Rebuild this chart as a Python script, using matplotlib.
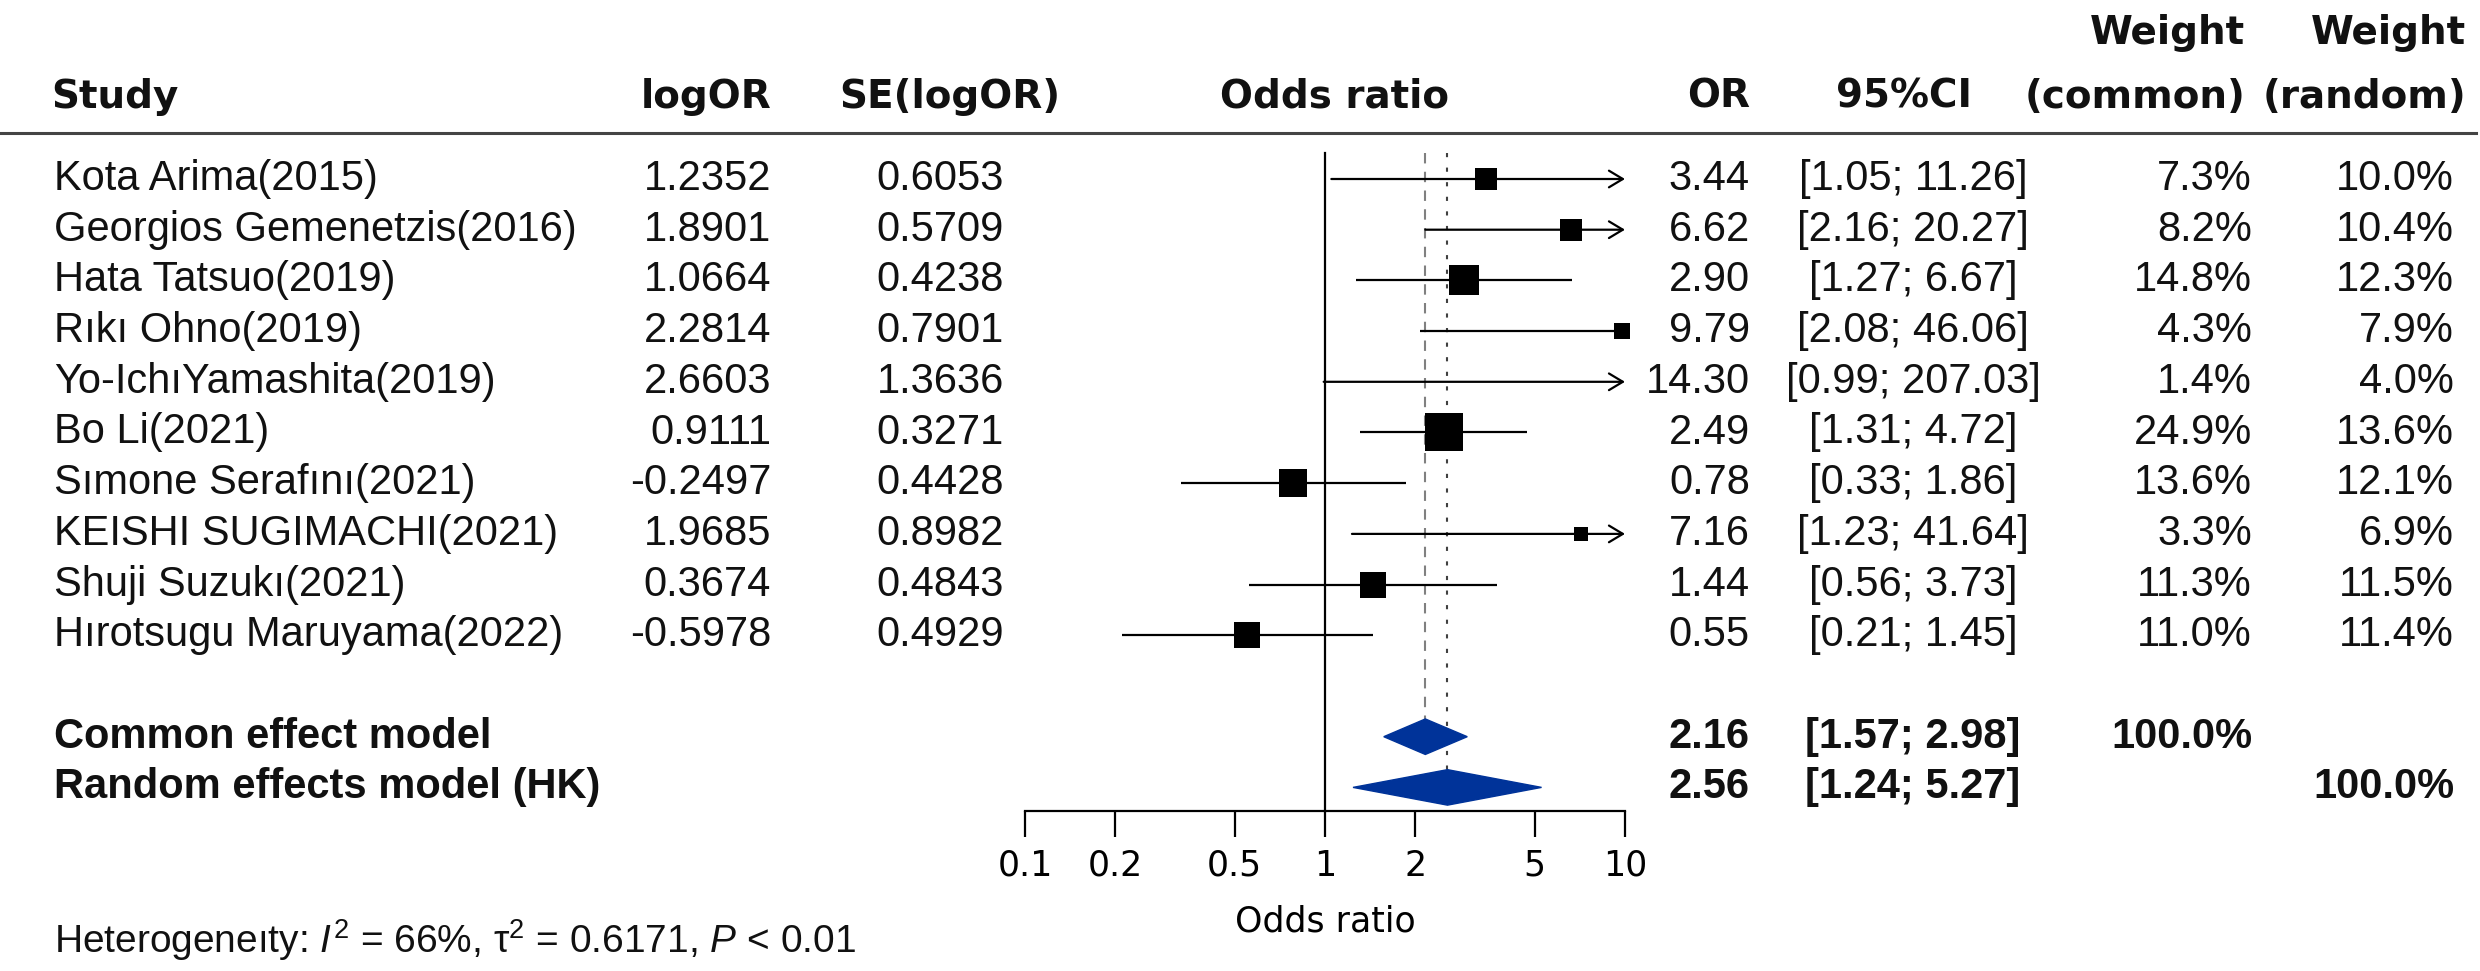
import matplotlib
matplotlib.use("Agg")
import matplotlib.pyplot as plt
from matplotlib.lines import Line2D
from matplotlib.patches import Polygon
import matplotlib.transforms as mtransforms

# study data
studies = ["Kota Arima(2015)", "Georgios Gemenetzis(2016)", "Hata Tatsuo(2019)",
           "Rıkı Ohno(2019)", "Yo-IchıYamashita(2019)", "Bo Li(2021)",
           "Sımone Serafını(2021)", "KEISHI SUGIMACHI(2021)", "Shuji Suzukı(2021)",
           "Hırotsugu Maruyama(2022)"]
logor = [1.2352, 1.8901, 1.0664, 2.2814, 2.6603, 0.9111, -0.2497, 1.9685, 0.3674, -0.5978]
se_logor = [0.6053, 0.5709, 0.4238, 0.7901, 1.3636, 0.3271, 0.4428, 0.8982, 0.4843, 0.4929]
odds = [3.44, 6.62, 2.90, 9.79, 14.30, 2.49, 0.78, 7.16, 1.44, 0.55]
ci_low = [1.05, 2.16, 1.27, 2.08, 0.99, 1.31, 0.33, 1.23, 0.56, 0.21]
ci_high = [11.26, 20.27, 6.67, 46.06, 207.03, 4.72, 1.86, 41.64, 3.73, 1.45]
w_common = [7.3, 8.2, 14.8, 4.3, 1.4, 24.9, 13.6, 3.3, 11.3, 11.0]
w_random = [10.0, 10.4, 12.3, 7.9, 4.0, 13.6, 12.1, 6.9, 11.5, 11.4]

# pooled estimates
models = ["Common effect model", "Random effects model (HK)"]
model_or = [2.16, 2.56]
model_low = [1.57, 1.24]
model_high = [2.98, 5.27]
model_wc = ["100.0%", ""]
model_wr = ["", "100.0%"]

heterogeneity = "Heterogeneıty: $\\mathit{I}^2$ = 66%, τ$^2$ = 0.6171, $\\mathit{P}$ < 0.01"
xticks = [0.1, 0.2, 0.5, 1, 2, 5, 10]
xtick_labels = ["0.1", "0.2", "0.5", "1", "2", "5", "10"]

W, H = 2480, 971
ROW0, STEP = 179, 50.7

plt.rcParams['mathtext.fontset'] = 'custom'
plt.rcParams['mathtext.rm'] = 'Liberation Sans'
plt.rcParams['mathtext.it'] = 'Liberation Sans:italic'

fig = plt.figure(figsize=(W / 100, H / 100), dpi=100)

ax = fig.add_axes([1025 / W, 0, 600 / W, 1])
ax.set_xscale('log')
ax.set_xlim(0.1, 10)
ax.set_ylim((H - ROW0) / STEP, -ROW0 / STEP)
ax.patch.set_visible(False)


def yd(pix):
    return (pix - ROW0) / STEP


# x axis
for s in ['top', 'right', 'left']:
    ax.spines[s].set_visible(False)
ax.spines['bottom'].set_position(('data', yd(811)))
ax.spines['bottom'].set_bounds(0.1, 10)
ax.spines['bottom'].set_linewidth(1.6)
ax.set_yticks([])
ax.set_xticks(xticks)
ax.set_xticklabels(xtick_labels, fontsize=25, family='DejaVu Sans')
ax.minorticks_off()
ax.tick_params(axis='x', direction='out', length=19, width=1.6, pad=8)
ax.text(1, yd(922), "Odds ratio", ha='center', va='center', fontsize=25,
        family='DejaVu Sans')

c_row = len(studies) + 1
r_row = len(studies) + 2

# reference lines
ax.plot([1, 1], [yd(153), yd(811)], color='black', lw=1.6, zorder=2)
ax.plot([model_or[0]] * 2, [yd(153), c_row - 0.35], color='#808080', lw=1.5,
        ls=(0, (5, 4)), zorder=1)
ax.plot([model_or[1]] * 2, [yd(153), r_row - 0.35], color='#404040', lw=1.5,
        ls=(0, (2, 5)), zorder=1)

# study CIs and squares
for i in range(len(studies)):
    lo = max(ci_low[i], 0.1)
    hi = min(ci_high[i], 10)
    if ci_high[i] > 10 and not (9 <= odds[i] <= 10):
        ax.annotate('', xy=(hi, i), xytext=(lo, i),
                    arrowprops=dict(arrowstyle='->,head_length=0.5,head_width=0.3',
                                    lw=1.6, color='black', shrinkA=0, shrinkB=0,
                                    mutation_scale=20),
                    annotation_clip=False, zorder=3)
    else:
        ax.plot([lo, hi], [i, i], color='black', lw=1.6, zorder=3,
                solid_capstyle='butt', clip_on=False)
    if odds[i] <= 10:
        ax.plot(odds[i], i, marker='s', color='black', mew=0,
                ms=5.6 * w_common[i] ** 0.5, zorder=4, clip_on=False)

# diamonds
for k, row in enumerate([c_row, r_row]):
    dia = Polygon([(model_low[k], row), (model_or[k], row - 0.35),
                   (model_high[k], row), (model_or[k], row + 0.35)],
                  closed=True, facecolor='#003399', edgecolor='#003399', lw=1,
                  zorder=5)
    ax.add_patch(dia)

# text columns
tr = mtransforms.blended_transform_factory(fig.transFigure, ax.transData)


def put(xpix, y, s, ha, bold=False, family='Liberation Sans', size=30):
    fig.text(xpix / W, y, s, transform=tr, ha=ha, va='center', fontsize=size,
             family=family, fontweight='bold' if bold else 'normal',
             color='#111111')


hdr = dict(bold=True, family='DejaVu Sans', size=28)
put(51, yd(97), "Study", 'left', **hdr)
put(771, yd(97), "logOR", 'right', **hdr)
put(1060, yd(97), "SE(logOR)", 'right', **hdr)
put(1335, yd(97), "Odds ratio", 'center', **hdr)
put(1750, yd(97), "OR", 'right', **hdr)
put(1904, yd(97), "95%CI", 'center', **hdr)
put(2245, yd(33), "Weight", 'right', **hdr)
put(2245, yd(97), "(common)", 'right', **hdr)
put(2466, yd(33), "Weight", 'right', **hdr)
put(2466, yd(97), "(random)", 'right', **hdr)

fig.add_artist(Line2D([0, 2476 / W], [1 - 133 / H, 1 - 133 / H], color='#444444',
                      lw=2.2))

for i in range(len(studies)):
    put(54, i, studies[i], 'left')
    put(771, i, f"{logor[i]:.4f}", 'right')
    put(1004, i, f"{se_logor[i]:.4f}", 'right')
    put(1750, i, f"{odds[i]:.2f}", 'right')
    put(1913, i, f"[{ci_low[i]:.2f}; {ci_high[i]:.2f}]", 'center')
    put(2252, i, f"{w_common[i]:.1f}%", 'right')
    put(2454, i, f"{w_random[i]:.1f}%", 'right')

for k, row in enumerate([c_row, r_row]):
    put(54, row, models[k], 'left', bold=True)
    put(1750, row, f"{model_or[k]:.2f}", 'right', bold=True)
    put(1913, row, f"[{model_low[k]:.2f}; {model_high[k]:.2f}]", 'center', bold=True)
    put(2252, row, model_wc[k], 'right', bold=True)
    put(2454, row, model_wr[k], 'right', bold=True)

put(54, yd(940), heterogeneity, 'left', size=28)

fig.savefig("out.png", dpi=100)
